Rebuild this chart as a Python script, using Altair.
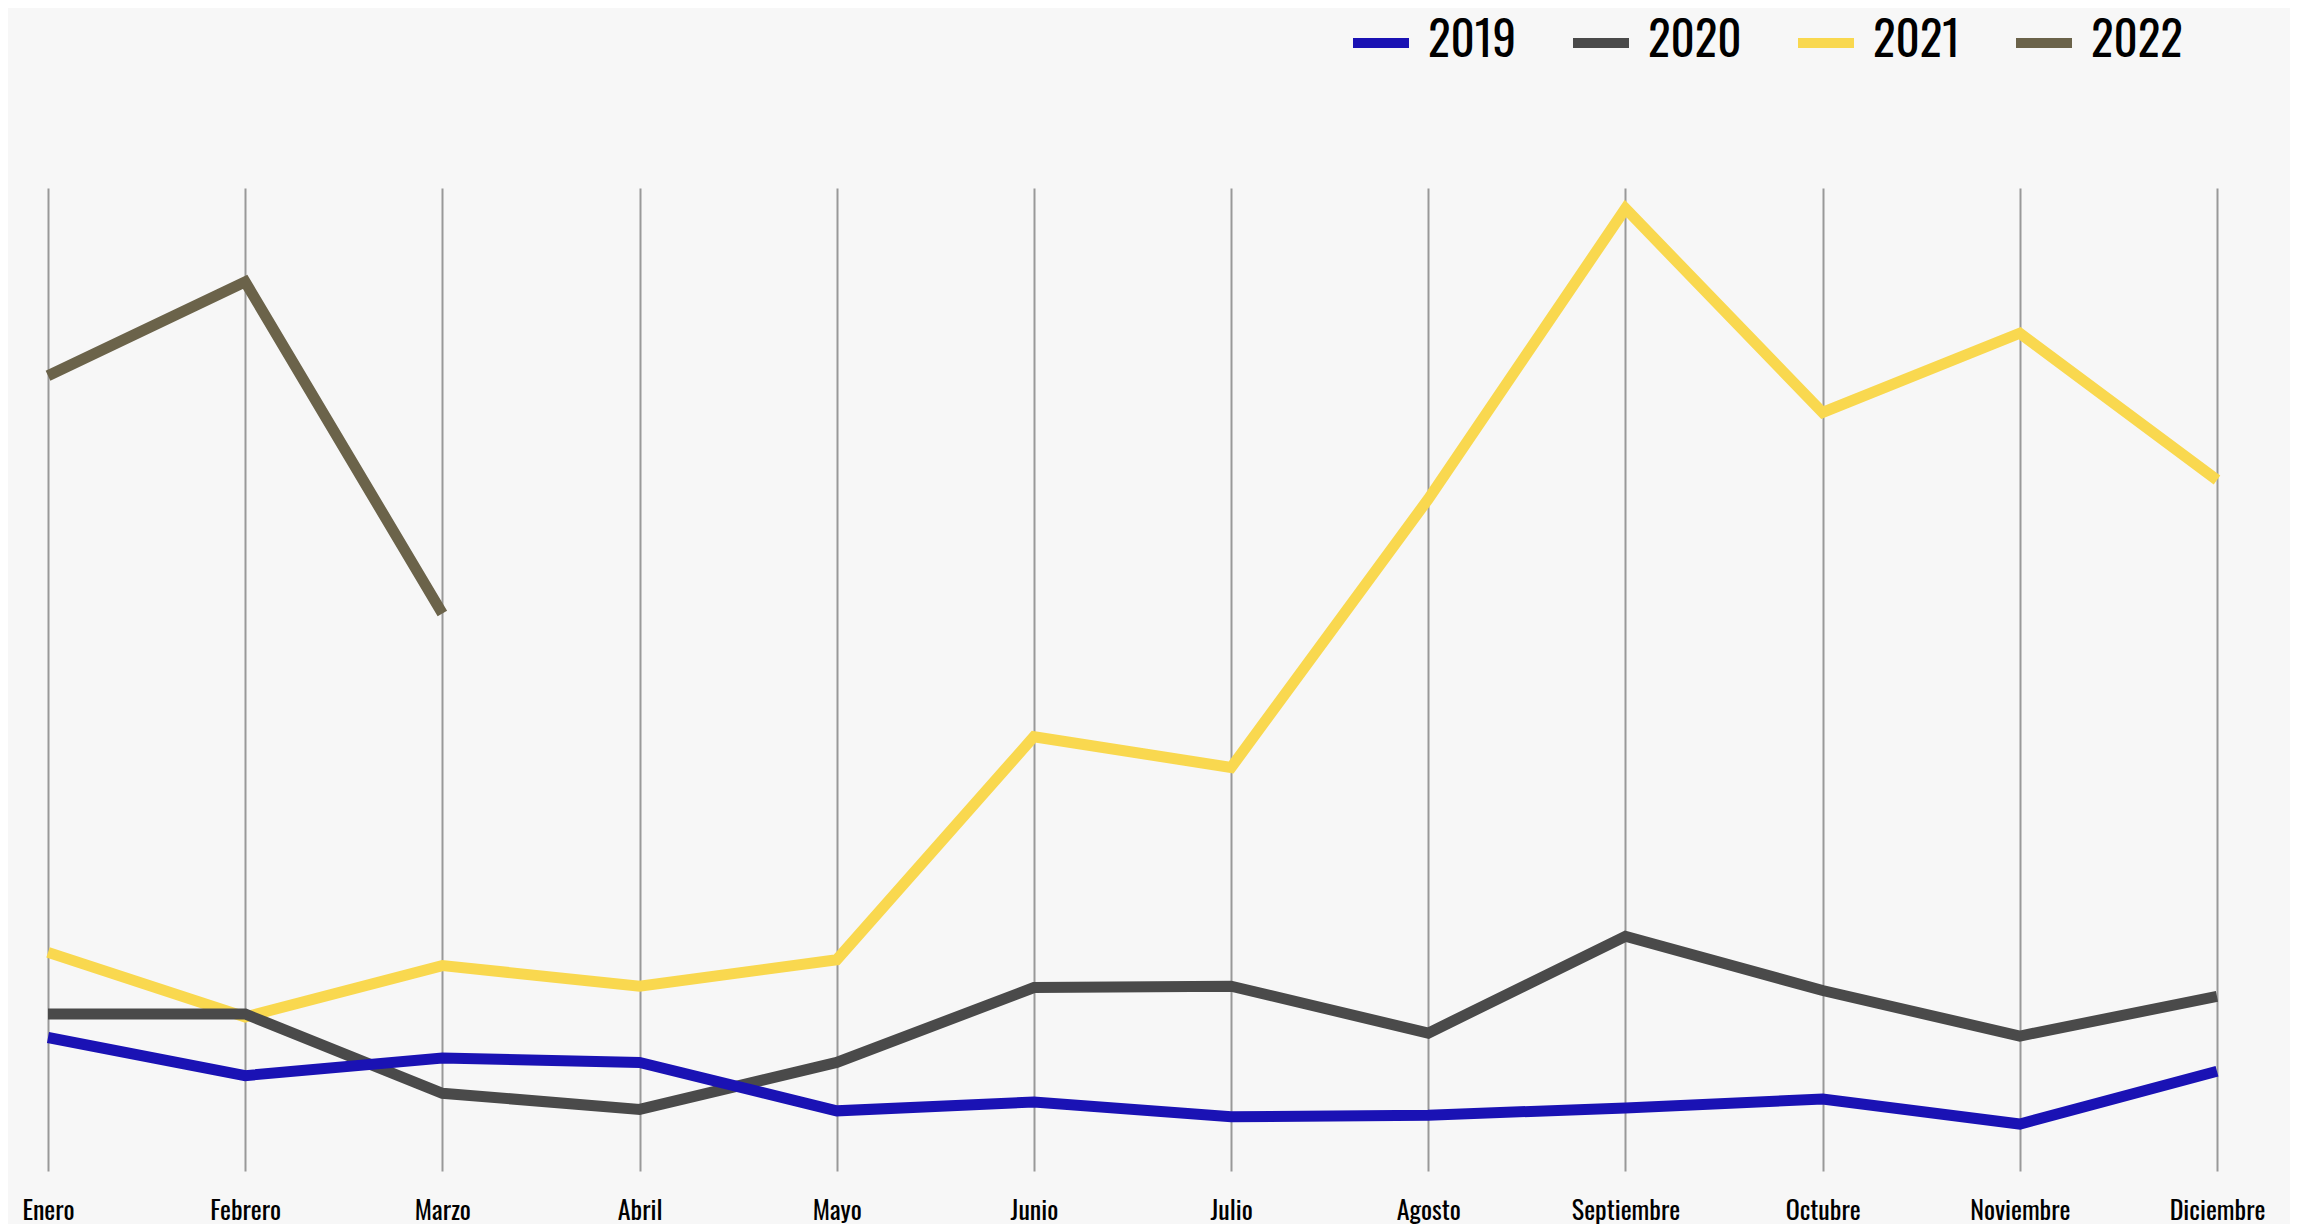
import altair as alt
import pandas as pd

months = ["Enero", "Febrero", "Marzo", "Abril", "Mayo", "Junio", "Julio",
          "Agosto", "Septiembre", "Octubre", "Noviembre", "Diciembre"]
years = ["2019", "2020", "2021", "2022"]
v2019 = [91, 65, 77, 74, 41, 47, 37, 38, 43, 49, 32, 68]
v2020 = [107, 107, 53, 42, 74, 125, 126, 94, 160, 123, 92, 119]
v2021 = [149, 105, 140, 126, 144, 296, 275, 458, 656, 517, 571, 471]
v2022 = [542, 606, 380]
colors = ["#1a12b4", "#4a4a4a", "#f9d84f", "#6b634a"]

rows = []
for y, vals in zip(years, [v2019, v2020, v2021, v2022]):
    for i, v in enumerate(vals):
        rows.append({"mes": months[i], "anio": y, "valor": v, "idx": i})
df = pd.DataFrame(rows)

FONT = "Oswald, 'Liberation Sans Narrow', 'DejaVu Sans Condensed', sans-serif"

base = alt.Chart(df).mark_line(strokeWidth=11, strokeJoin="miter").encode(
    x=alt.X("mes:N", sort=months, title=None,
            scale=alt.Scale(domain=months, padding=0),
            axis=alt.Axis(grid=True, gridColor="#999999", gridWidth=2,
                          domain=False, ticks=False, labelAngle=0,
                          labelFont=FONT, labelFontSize=26, labelColor="#000000",
                          labelBaseline="alphabetic", labelPadding=48,
                          labelAlign="center")),
    y=alt.Y("valor:Q", axis=None, scale=alt.Scale(domain=[0, 670], zero=True, nice=False)),
    color=alt.Color("anio:N", scale=alt.Scale(domain=years, range=colors), title=None,
                    legend=alt.Legend(orient="none", direction="horizontal",
                                      legendX=1300, legendY=-178,
                                      symbolType="stroke", symbolSize=3136,
                                      symbolStrokeWidth=10, labelFont=FONT,
                                      labelFontSize=47, labelColor="#000000",
                                      labelOffset=14, columnPadding=36,
                                      symbolOpacity=1)),
)

layers = [base.transform_filter(alt.datum.anio == y) for y in ["2021", "2022", "2020", "2019"]]

chart = alt.layer(*layers).properties(
    width=2169, height=983,
    autosize=alt.AutoSizeParams(type="none"),
    padding={"left": 40, "top": 180, "right": 73, "bottom": 80},
    background="#f7f7f7",
).configure_view(stroke=None)

chart.save("out.html", embed_options={"renderer": "svg", "actions": False})
